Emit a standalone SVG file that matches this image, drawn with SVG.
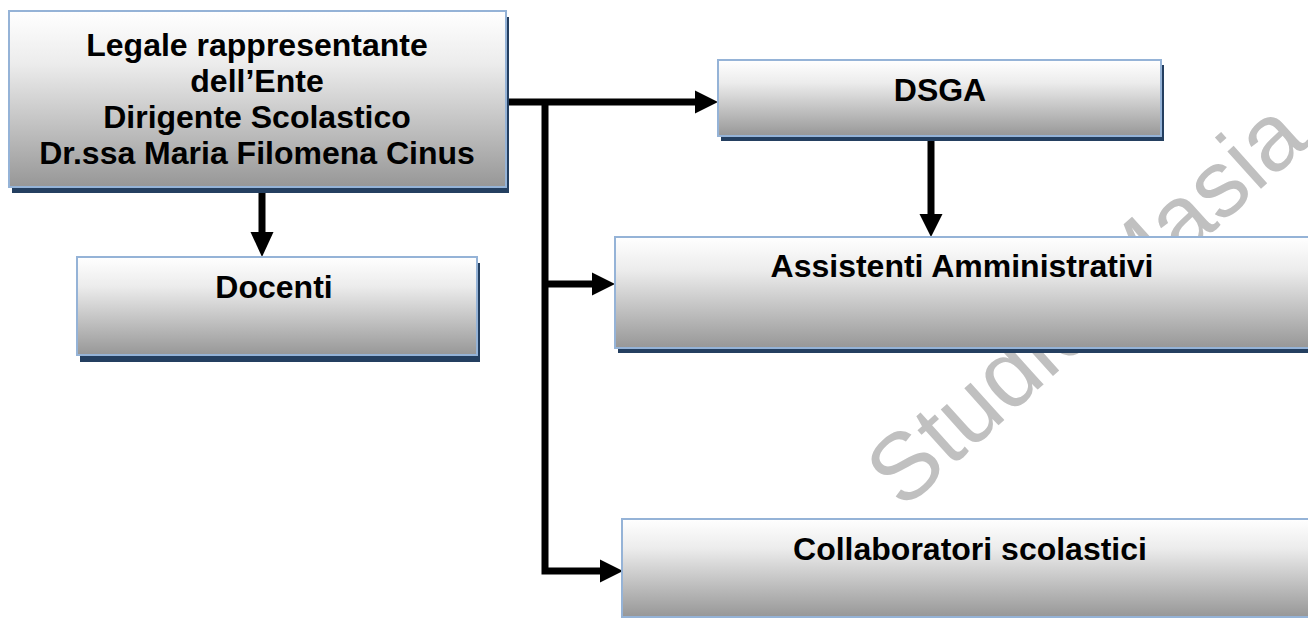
<svg xmlns="http://www.w3.org/2000/svg" width="1308" height="618" viewBox="0 0 1308 618">
<defs>
<linearGradient id="g" x1="0" y1="0" x2="0" y2="1">
<stop offset="0" stop-color="#ffffff"/>
<stop offset="0.3" stop-color="#ececec"/>
<stop offset="1" stop-color="#979797"/>
</linearGradient>
<style>
.box{fill:url(#g);stroke:#95b3d7;stroke-width:2}
.sh{fill:#243f60}
.t{font-family:"Liberation Sans",Arial,sans-serif;font-weight:bold;font-size:32px;fill:#000;text-anchor:middle}
.wm{font-family:"Liberation Sans",Arial,sans-serif;font-size:95px;fill:#c0c0c0}
.ln{fill:none;stroke:#000;stroke-width:7;stroke-linejoin:miter}
.ah{fill:#000}
</style>
</defs>
<rect width="1308" height="618" fill="#ffffff"/>
<text class="wm" transform="translate(903,511) rotate(-42)">Studio Masia</text>

<g id="connectors">
<path class="ln" d="M262,188 V234"/>
<polygon class="ah" points="250.5,232 273.5,232 262,257"/>
<path class="ln" d="M506,102 H697"/>
<polygon class="ah" points="695,90.5 718,102 695,113.5"/>
<path class="ln" d="M545,102 V571 H603"/>
<path class="ln" d="M545,284 H594"/>
<polygon class="ah" points="592,272.5 615,284 592,295.5"/>
<polygon class="ah" points="600,559.5 623,571 600,582.5"/>
<path class="ln" d="M931,137 V216"/>
<polygon class="ah" points="919.5,214 942.5,214 931,237"/>
</g>

<g id="node-dirigente">
<rect class="sh" x="12" y="17" width="497" height="176"/>
<rect class="box" x="9" y="11" width="497" height="176"/>
<text class="t" x="257" y="56">Legale rappresentante</text>
<text class="t" x="257" y="92">dell’Ente</text>
<text class="t" x="257" y="128">Dirigente Scolastico</text>
<text class="t" x="257" y="164">Dr.ssa Maria Filomena Cinus</text>
</g>

<g id="node-docenti">
<rect class="sh" x="80" y="263" width="400" height="99"/>
<rect class="box" x="77" y="257" width="400" height="98"/>
<text class="t" x="274" y="298">Docenti</text>
</g>

<g id="node-dsga">
<rect class="sh" x="721" y="65" width="443" height="76"/>
<rect class="box" x="718" y="60" width="443" height="76"/>
<text class="t" x="940" y="101">DSGA</text>
</g>

<g id="node-assistenti">
<rect class="sh" x="618" y="242" width="720" height="111"/>
<rect class="box" x="615" y="237" width="720" height="111"/>
<text class="t" x="962" y="277">Assistenti Amministrativi</text>
</g>

<g id="node-collaboratori">
<rect class="sh" x="625" y="525" width="720" height="100"/>
<rect class="box" x="622" y="519" width="720" height="98"/>
<text class="t" x="970" y="560">Collaboratori scolastici</text>
</g>
</svg>
